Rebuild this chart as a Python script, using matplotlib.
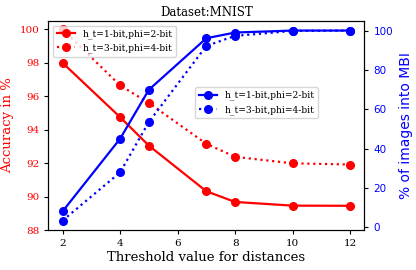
import matplotlib
matplotlib.use("Agg")
import matplotlib.pyplot as plt

plt.rcParams['font.family'] = 'DejaVu Serif'

# threshold values for distances
thresholds = [2, 4, 5, 7, 8, 10, 12]

# accuracy in % (left axis)
acc_1bit = [98.0, 94.75, 93.05, 90.32, 89.68, 89.46, 89.45]
acc_3bit = [100.0, 96.65, 95.6, 93.16, 92.38, 91.99, 91.92]

# % of images into MBI (right axis)
mbi_1bit = [8.1, 45.0, 69.9, 96.1, 99.0, 100.0, 100.0]
mbi_3bit = [3.4, 27.9, 53.5, 92.2, 97.3, 99.8, 100.0]

labels = ["h_t=1-bit,phi=2-bit", "h_t=3-bit,phi=4-bit"]

fig, ax = plt.subplots(figsize=(4.16, 2.7), dpi=100)
fig.subplots_adjust(left=0.116, right=0.876, top=0.922, bottom=0.148)

ax.plot(thresholds, acc_1bit, '-', color='red', marker='o', ms=5.5, lw=1.6, label=labels[0])
ax.plot(thresholds, acc_3bit, ':', color='red', marker='o', ms=5.5, lw=1.6, label=labels[1])
ax.set_ylabel("Accuracy in %", color='red', fontsize=9.5)
ax.set_xlabel("Threshold value for distances", fontsize=9.5, labelpad=2)
ax.tick_params(axis='y', labelcolor='red', labelsize=7.5, length=3)
ax.tick_params(axis='x', labelsize=7.5, length=3)
ax.set_yticks([88, 90, 92, 94, 96, 98, 100])
ax.set_ylim(88, 100.5)
ax.set_xticks([2, 4, 6, 8, 10, 12])
ax.legend(loc='upper left', fontsize=6.6, framealpha=0.8)
ax.set_title("Dataset:MNIST", fontsize=8.5, pad=4)

ax2 = ax.twinx()
ax2.plot(thresholds, mbi_1bit, '-', color='blue', marker='o', ms=5.5, lw=1.6, label=labels[0])
ax2.plot(thresholds, mbi_3bit, ':', color='blue', marker='o', ms=5.5, lw=1.6, label=labels[1])
ax2.set_ylabel("% of images into MBI", color='blue', fontsize=10, family='DejaVu Sans')
ax2.tick_params(axis='y', labelcolor='blue', labelsize=7.5, length=3)
for lbl in ax2.get_yticklabels():
    lbl.set_family('DejaVu Sans')
ax2.legend(loc='upper left', bbox_to_anchor=(0.464, 0.684), borderaxespad=0,
           fontsize=6.6, framealpha=0.8)

fig.savefig("out.png", dpi=100)
